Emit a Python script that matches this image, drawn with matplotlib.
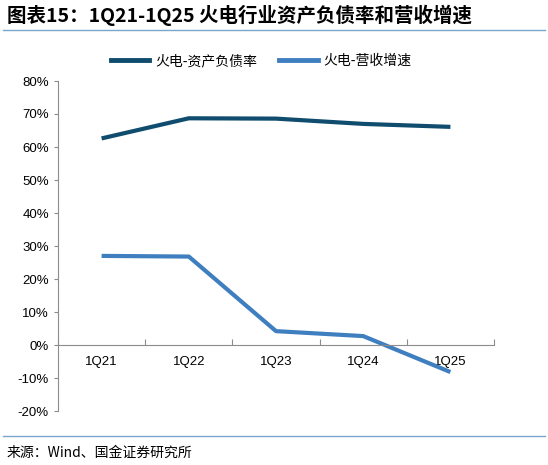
import matplotlib.pyplot as plt
import numpy as np
from matplotlib.lines import Line2D

plt.rcParams['font.family'] = ['Liberation Sans', 'Noto Sans CJK SC', 'DejaVu Sans']

quarters = ['1Q21', '1Q22', '1Q23', '1Q24', '1Q25']
debt_ratio = [62.6, 68.7, 68.6, 67.0, 66.1]
rev_growth = [27.0, 26.8, 4.2, 2.7, -8.2]
series_names = ['火电-资产负债率', '火电-营收增速']

dark = '#0f4c6e'
light = '#3f7fc0'
grid_c = '#8c8c8c'

fig = plt.figure(figsize=(5.48, 4.65), dpi=100)
ax = fig.add_axes([58/548, 1-411/465, 436/548, 330/465])

x = np.arange(len(quarters))
ax.plot(x, debt_ratio, color=dark, lw=3, solid_capstyle='butt')
ax.plot(x, rev_growth, color=light, lw=3, solid_capstyle='butt')

ax.set_xlim(-0.5, 4.5)
ax.set_ylim(-20, 80)
ax.set_yticks(np.arange(-20, 81, 10))
ax.set_yticklabels([f'{v}%' for v in range(-20, 81, 10)], fontsize=9.5)

# x axis drawn at 0, category labels in between boundary ticks
ax.spines['bottom'].set_position(('data', 0))
ax.spines['bottom'].set_color(grid_c)
ax.spines['left'].set_color(grid_c)
ax.spines['top'].set_visible(False)
ax.spines['right'].set_visible(False)
ax.set_xticks(np.arange(-0.5, 4.6, 1))
ax.set_xticklabels([])
ax.tick_params(axis='x', which='major', direction='in', length=4, color=grid_c)
ax.set_xticks(x, minor=True)
ax.set_xticklabels(quarters, minor=True, fontsize=9.5)
ax.tick_params(axis='x', which='minor', length=0, pad=8)
ax.tick_params(axis='y', direction='out', length=3, color=grid_c)

# legend
handles = [Line2D([0], [0], color=dark, lw=3.5), Line2D([0], [0], color=light, lw=3.5)]
fig.legend(handles, series_names, loc='center left', bbox_to_anchor=(98/548, 1-61/465), ncol=2,
           frameon=False, prop={'family': 'Noto Sans CJK SC', 'size': 10},
           handlelength=2.8, columnspacing=1.6, handletextpad=0.4)

# title and frame lines
fig.text(0.012, 1-15/465, '图表15：1Q21-1Q25 火电行业资产负债率和营收增速', fontsize=14,
         fontweight='bold', style='italic', family=['Noto Sans CJK SC'], va='center')
fig.add_artist(Line2D([0.005, 0.995], [1-30/465, 1-30/465], color='#7aa6cc', lw=1))
fig.add_artist(Line2D([0.005, 0.995], [1-436/465, 1-436/465], color='#7aa6cc', lw=1))
fig.text(0.012, 1-453/465, '来源：Wind、国金证券研究所', fontsize=10,
         family=['Noto Sans CJK SC'], va='center')

fig.savefig('out.png', dpi=100)
